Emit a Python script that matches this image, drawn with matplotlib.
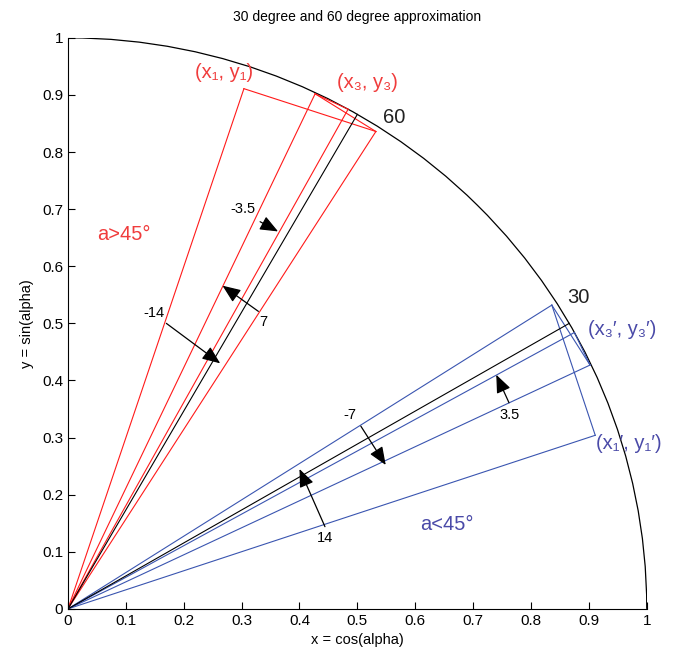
import numpy as np
import matplotlib.pyplot as plt
from matplotlib.patches import Arc

plt.rcParams['font.family'] = ['Liberation Sans', 'DejaVu Sans']

# vertices of the pseudo-rotation steps
red_x = [0.304, 0.532, 0.427, 0.484]
red_y = [0.911, 0.836, 0.902, 0.875]
blue_x = [0.911, 0.836, 0.902, 0.875]
blue_y = [0.304, 0.532, 0.427, 0.484]
target_deg = [30, 60]

ticks = np.round(np.arange(0, 1.01, 0.1), 1)
tick_labels = ['0', '0.1', '0.2', '0.3', '0.4', '0.5', '0.6', '0.7', '0.8', '0.9', '1']

# arrow annotations: label, label pos, tail, head
arrows = [
    ('-14', (0.149, 0.518), (0.170, 0.500), (0.263, 0.430)),
    ('7', (0.337, 0.503), (0.329, 0.521), (0.267, 0.566)),
    ('-3.5', (0.303, 0.700), (0.332, 0.678), (0.363, 0.661)),
    ('-7', (0.487, 0.340), (0.506, 0.320), (0.549, 0.252)),
    ('14', (0.444, 0.124), (0.444, 0.144), (0.400, 0.245)),
    ('3.5', (0.763, 0.340), (0.762, 0.361), (0.740, 0.410)),
]

red = '#ff1a1a'
blue = '#3a55b0'
red_txt = '#f03c3c'
blue_txt = '#4a4aa8'

fig = plt.figure(figsize=(6.73, 6.64), dpi=100)
ax = fig.add_axes([0.101, 0.083, 0.860, 0.860])

ax.add_patch(Arc((0, 0), 2, 2, theta1=0, theta2=90, color='black', lw=0.9))

for xs, ys, c in [(red_x, red_y, red), (blue_x, blue_y, blue)]:
    for i in range(len(xs)):
        ax.plot([0, xs[i]], [0, ys[i]], color=c, lw=0.8)
        if i > 0:
            ax.plot([xs[i - 1], xs[i]], [ys[i - 1], ys[i]], color=c, lw=0.8)

for d in target_deg:
    a = np.radians(d)
    ax.plot([0, np.cos(a)], [0, np.sin(a)], color='black', lw=0.8)

for lab, lp, tail, head in arrows:
    ax.text(lp[0], lp[1], lab, fontsize=10.5, ha='center', va='center')
    ax.annotate('', xy=head, xytext=tail,
                arrowprops=dict(arrowstyle='-|>,head_length=1.1,head_width=0.45',
                                color='black', lw=0.9, shrinkA=0, shrinkB=0))

lab_fs = 14.5
ax.text(0.219, 0.94, '(x\u2081, y\u2081)', color=red_txt, fontsize=lab_fs, va='center')
ax.text(0.465, 0.921, '(x\u2083, y\u2083)', color=red_txt, fontsize=lab_fs, va='center')
ax.text(0.545, 0.86, '60', color='#222222', fontsize=lab_fs, va='center')
ax.text(0.862, 0.545, '30', color='#222222', fontsize=lab_fs, va='center')
ax.text(0.898, 0.489, '(x\u2083\u2032, y\u2083\u2032)', color=blue_txt, fontsize=lab_fs, va='center')
ax.text(0.912, 0.289, '(x\u2081\u2032, y\u2081\u2032)', color=blue_txt, fontsize=lab_fs, va='center')
ax.text(0.05, 0.655, 'a>45\u00b0', color=red_txt, fontsize=lab_fs, va='center')
ax.text(0.608, 0.147, 'a<45\u00b0', color=blue_txt, fontsize=lab_fs, va='center')

ax.set_xlim(0, 1)
ax.set_ylim(0, 1)
ax.set_xticks(ticks)
ax.set_yticks(ticks)
ax.set_xticklabels(tick_labels)
ax.set_yticklabels(tick_labels)
ax.tick_params(direction='in', length=5, labelsize=11, width=0.8)
ax.spines['top'].set_visible(False)
ax.spines['right'].set_visible(False)
ax.set_xlabel('x = cos(alpha)', fontsize=10.5, labelpad=4)
ax.set_ylabel('y = sin(alpha)', fontsize=10.5, labelpad=6)
ax.set_title('30 degree and 60 degree approximation', fontsize=10, pad=12)

fig.savefig('out.png', dpi=100)
